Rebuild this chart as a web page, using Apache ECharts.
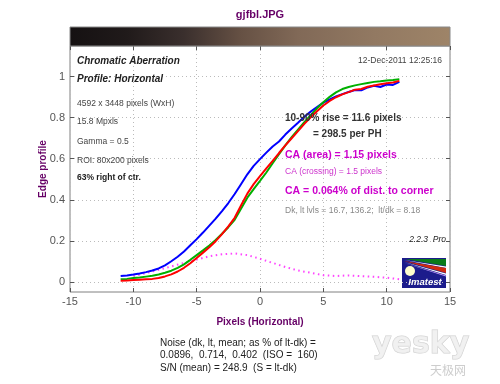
<!DOCTYPE html>
<html>
<head>
<meta charset="utf-8">
<script src="https://cdn.jsdelivr.net/npm/echarts@6/dist/echarts.min.js"></script>
<style>
html,body{margin:0;padding:0;background:#fff;}
#c{width:500px;height:384px;}
</style>
</head>
<body>
<div id="c"></div>
<script>
// ---- data ----
const xPos = [-11,-10.5,-10,-9.5,-9,-8.5,-8,-7.5,-7,-6.5,-6,-5.5,-5,-4.5,-4,-3.5,-3,-2.5,-2,-1.5,-1,-0.5,0,0.5,1,1.5,2,2.5,3,3.5,4,4.5,5,5.5,6,6.5,7,7.5,8,8.5,9,9.5,10,10.5,11];
const blueY = [0.028,0.031,0.035,0.040,0.047,0.055,0.065,0.080,0.100,0.122,0.148,0.178,0.208,0.240,0.274,0.308,0.345,0.384,0.428,0.476,0.524,0.565,0.598,0.630,0.660,0.684,0.718,0.748,0.776,0.805,0.830,0.852,0.874,0.889,0.904,0.915,0.926,0.935,0.934,0.948,0.956,0.950,0.962,0.960,0.975];
const redY = [0.005,0.006,0.008,0.010,0.012,0.014,0.018,0.026,0.036,0.050,0.068,0.090,0.116,0.142,0.168,0.198,0.232,0.270,0.312,0.372,0.430,0.476,0.515,0.553,0.590,0.628,0.665,0.700,0.735,0.770,0.802,0.832,0.860,0.882,0.900,0.914,0.925,0.937,0.940,0.951,0.957,0.963,0.968,0.972,0.980];
const greenY = [0.012,0.014,0.018,0.021,0.025,0.029,0.035,0.044,0.054,0.068,0.085,0.107,0.130,0.153,0.177,0.204,0.234,0.266,0.302,0.356,0.410,0.452,0.492,0.533,0.578,0.622,0.665,0.705,0.742,0.778,0.812,0.846,0.876,0.902,0.924,0.940,0.950,0.958,0.964,0.970,0.975,0.978,0.982,0.984,0.988];
const magX = [-10,-9,-8,-7,-6,-5,-4,-3,-2,-1,0,1,2,3,4,5,6,7,8,9,10,11];
const magY = [0.028,0.042,0.058,0.075,0.092,0.108,0.124,0.134,0.138,0.130,0.112,0.092,0.072,0.055,0.044,0.032,0.028,0.031,0.027,0.024,0.020,0.012];
const yTicks = [0,0.2,0.4,0.6,0.8,1];
const xMin = -15, xMax = 15, xStep = 5;

const leftInfo = [
  ['Chromatic Aberration', 61, 'italic bold 10px "Liberation Sans"', '#222'],
  ['Profile: Horizontal', 79, 'italic bold 10px "Liberation Sans"', '#222'],
  ['4592 x 3448 pixels (WxH)', 104, '8.5px "Liberation Sans"', '#444'],
  ['15.8 Mpxls', 122, '8.5px "Liberation Sans"', '#444'],
  ['Gamma = 0.5', 142, '8.5px "Liberation Sans"', '#444'],
  ['ROI: 80x200 pixels', 161, '8.5px "Liberation Sans"', '#444'],
  ['63% right of ctr.', 178, 'bold 8.5px "Liberation Sans"', '#222']
];
const rightInfo = [
  ['10-90% rise = 11.6 pixels', 285, 118, 'bold 10px "Liberation Sans"', '#333'],
  ['= 298.5 per PH', 313, 134, 'bold 10px "Liberation Sans"', '#333'],
  ['CA (area) = 1.15 pixels', 285, 155, 'bold 10.5px "Liberation Sans"', '#cc00cc'],
  ['CA (crossing) = 1.5 pixels', 285, 172, '8.5px "Liberation Sans"', '#cc33cc'],
  ['CA = 0.064% of dist. to corner', 285, 191, 'bold 10.5px "Liberation Sans"', '#cc00cc'],
  ['Dk, lt lvls = 16.7, 136.2;  lt/dk = 8.18', 285, 211, '8.5px "Liberation Sans"', '#888']
];
const noiseLines = [
  'Noise (dk, lt, mean; as % of lt-dk) =',
  '0.0896,  0.714,  0.402  (ISO =  160)',
  'S/N (mean) = 248.9  (S = lt-dk)'
];

const chart = echarts.init(document.getElementById('c'), null, {renderer:'canvas'});
const pair = (xs, ys) => xs.map((x,i)=>[x, ys[i]]);
const gridLine = {show:true, lineStyle:{type:[1,3], color:'#bbb', width:1}};
const tickFont = {color:'#555', fontSize:11, fontFamily:'Liberation Sans'};

const graphics = [];
// gradient bar
graphics.push({type:'rect', shape:{x:70, y:27, width:380, height:19}, z:10,
  style:{stroke:'#888', lineWidth:1, fill:{type:'linear', x:0, y:0, x2:1, y2:0, colorStops:[
    {offset:0, color:'#151112'},{offset:0.15, color:'#201a1a'},{offset:0.3, color:'#3a2f2d'},
    {offset:0.45, color:'#665144'},{offset:0.6, color:'#816957'},{offset:0.8, color:'#927962'},{offset:1, color:'#9e8468'}]}}});
graphics.push({type:'text', z:10, style:{text:'gjfbl.JPG', x:260, y:15, align:'center', verticalAlign:'middle', font:'bold 11px "Liberation Sans"', fill:'#660066'}});
leftInfo.forEach(r => graphics.push({type:'text', z:10, style:{text:r[0], x:77, y:r[1], verticalAlign:'middle', font:r[2], fill:r[3]}}));
rightInfo.forEach(r => graphics.push({type:'text', z:10, style:{text:r[0], x:r[1], y:r[2], verticalAlign:'middle', font:r[3], fill:r[4]}}));
graphics.push({type:'text', z:10, style:{text:'12-Dec-2011 12:25:16', x:442, y:61, align:'right', verticalAlign:'middle', font:'8.5px "Liberation Sans"', fill:'#444'}});
graphics.push({type:'text', z:10, style:{text:'2.2.3  Pro', x:446, y:240, align:'right', verticalAlign:'middle', font:'italic 8.5px "Liberation Sans"', fill:'#222'}});
noiseLines.forEach((t,i) => graphics.push({type:'text', z:10, style:{text:t, x:160, y:343+i*12.5, verticalAlign:'middle', font:'10px "Liberation Sans"', fill:'#222'}}));
// Imatest logo
graphics.push({type:'group', z:10, children:[
  {type:'rect', shape:{x:402, y:258, width:44, height:30}, style:{fill:'#1c1c8c'}},
  {type:'polygon', shape:{points:[[405,259],[446,259],[446,266]]}, style:{fill:'#0a7a1a'}},
  {type:'polygon', shape:{points:[[404,260],[446,266.5],[446,268]]}, style:{fill:'#ffffff'}},
  {type:'polygon', shape:{points:[[404,261],[446,268],[446,273]]}, style:{fill:'#d02a10'}},
  {type:'polygon', shape:{points:[[404,262],[446,273.5],[446,275]]}, style:{fill:'#ffffff'}},
  {type:'polygon', shape:{points:[[404,263],[446,275.5],[446,276.5]]}, style:{fill:'#c8a0ff'}},
  {type:'circle', shape:{cx:410, cy:271, r:5}, style:{fill:'#ffffcc'}},
  {type:'text', style:{text:'Imatest', x:425, y:282, align:'center', verticalAlign:'middle', font:'italic bold 9.5px "Liberation Sans"', fill:'#ffffff'}}
]});
// watermark
graphics.push({type:'text', z:10, style:{text:'yesky', x:372, y:345, verticalAlign:'middle', font:'bold 30px "DejaVu Sans"', fill:'rgba(238,238,238,0.8)', stroke:'rgba(195,195,195,0.8)', lineWidth:1}});
graphics.push({type:'text', z:10, style:{text:'天极网', x:430, y:370, verticalAlign:'middle', font:'12px "Noto Sans CJK SC"', fill:'rgba(200,200,200,0.9)'}});

chart.setOption({
  animation:false,
  backgroundColor:'#fff',
  grid:{left:70, right:50, top:46, bottom:92, show:true, borderColor:'#808080', borderWidth:1},
  xAxis:[
    {type:'value', min:xMin, max:xMax, interval:xStep, position:'bottom',
     name:'Pixels (Horizontal)', nameLocation:'middle', nameGap:25,
     nameTextStyle:{color:'#660066', fontWeight:'bold', fontSize:10, fontFamily:'Liberation Sans'},
     axisLine:{show:false, onZero:false}, axisTick:{inside:true, length:4, lineStyle:{color:'#555'}},
     axisLabel:Object.assign({margin:4}, tickFont), splitLine:gridLine},
    {type:'value', min:xMin, max:xMax, interval:xStep, position:'top',
     axisLine:{show:false, onZero:false}, axisTick:{inside:true, length:4, lineStyle:{color:'#555'}},
     axisLabel:{show:false}, splitLine:{show:false}}
  ],
  yAxis:[
    {type:'value', min:-0.05, max:1.15, position:'left',
     name:'Edge profile', nameLocation:'middle', nameGap:22, nameRotate:90, nameMoveOverlap:false,
     nameTextStyle:{color:'#660066', fontWeight:'bold', fontSize:10, fontFamily:'Liberation Sans'},
     axisLine:{show:false, onZero:false}, axisTick:{inside:true, length:4, customValues:yTicks, lineStyle:{color:'#555'}},
     axisLabel:Object.assign({margin:5, customValues:yTicks, formatter:v=>String(v)}, tickFont),
     splitLine:gridLine},
    {type:'value', min:-0.05, max:1.15, position:'right',
     axisLine:{show:false, onZero:false}, axisTick:{inside:true, length:4, customValues:yTicks, lineStyle:{color:'#555'}},
     axisLabel:{show:false}, splitLine:{show:false}}
  ],
  series:[
    {type:'line', data:pair(magX, magY), showSymbol:false, lineStyle:{color:'#ff44ff', width:2, type:[1.5,3.5]}},
    {type:'line', data:pair(xPos, blueY), showSymbol:false, lineStyle:{color:'#0000ff', width:2}},
    {type:'line', data:pair(xPos, greenY), showSymbol:false, lineStyle:{color:'#00b000', width:2}},
    {type:'line', data:pair(xPos, redY), showSymbol:false, lineStyle:{color:'#ff0000', width:2}}
  ],
  graphic:graphics
});
</script>
</body>
</html>
